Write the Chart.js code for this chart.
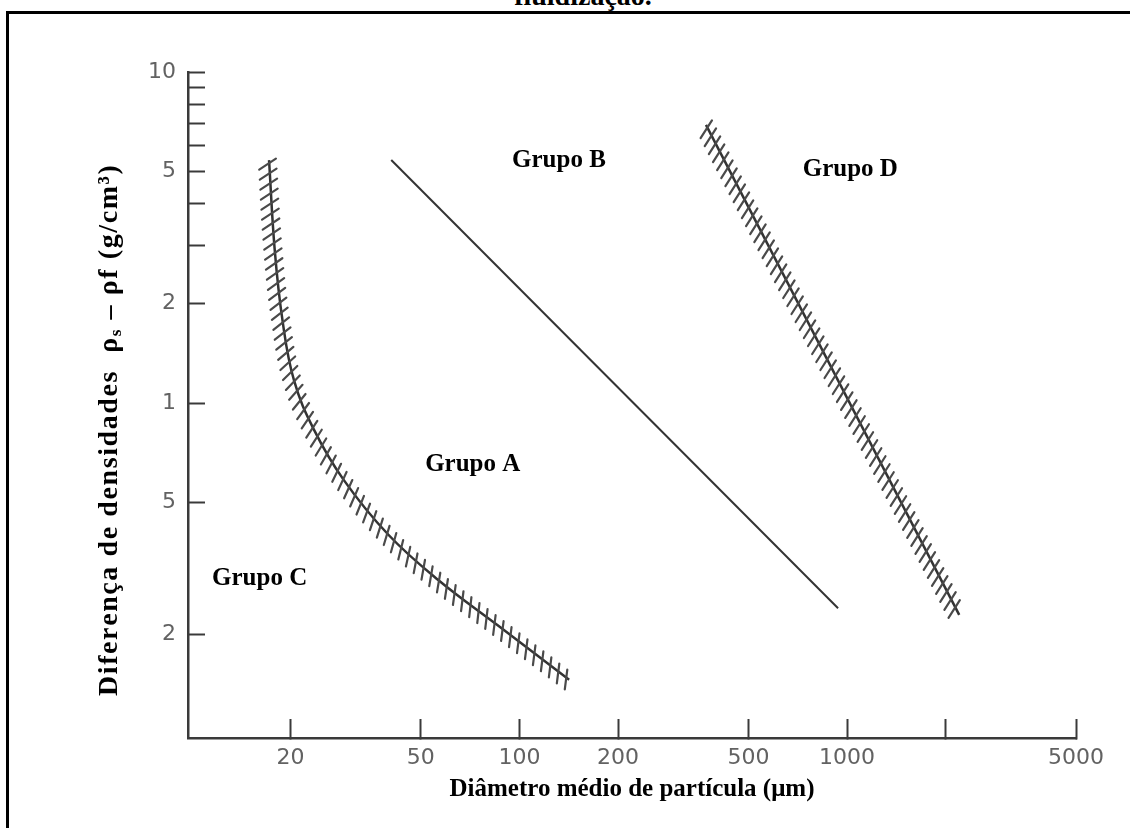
<!DOCTYPE html>
<html>
<head>
<meta charset="utf-8">
<title>Diagrama de Geldart</title>
<script src="https://cdn.jsdelivr.net/npm/chart.js@4.4.1/dist/chart.umd.min.js"></script>
<style>
  html, body { margin: 0; padding: 0; background: #fff; }
  body { width: 1130px; height: 828px; position: relative; overflow: hidden; }
  .frame {
    position: absolute; left: 6px; top: 11px; width: 1140px; height: 840px;
    border-left: 3px solid #000; border-top: 3px solid #000;
  }
  .caption {
    position: absolute; left: 18px; width: 1130px; top: -18px; text-align: center;
    font: bold 28px 'Liberation Serif', serif; line-height: 28px; color: #000;
  }
  canvas { position: absolute; left: 0; top: 0; }
</style>
</head>
<body>
<div class="caption">fluidização.</div>
<div class="frame"></div>
<canvas id="geldartChart" width="1130" height="828"></canvas>
<script>
// Ticks (log axes)
const xTickValues = [20, 50, 100, 200, 500, 1000, 2000, 5000];
const xTickLabels = ['20', '50', '100', '200', '500', '1000', '', '5000'];
const yTickValues = [10, 9, 8, 7, 6, 5, 4, 3, 2, 1, 0.5, 0.2];
const yTickLabels = ['10', '', '', '', '', '5', '', '', '2', '1', '5', '2'];

// Boundary C / A (hatched curve)
const caDiameter = [17.2, 17.9, 18.9, 20.5, 23.6, 29.1, 39.8, 56.5, 85.8, 141.8];
const caDensity = [5.42, 2.9, 1.78, 1.17, 0.83, 0.585, 0.40, 0.292, 0.213, 0.146];

// Boundary A / B (plain line)
const abDiameter = [40.6, 939];
const abDensity = [5.42, 0.240];

// Boundary B / D (hatched line)
const bdDiameter = [371, 2200];
const bdDensity = [6.92, 0.229];

// Group labels
const groupNames = ['Grupo A', 'Grupo B', 'Grupo C', 'Grupo D'];
const groupDiameter = [72, 132, 16.1, 1023];
const groupDensity = [0.65, 5.42, 0.296, 5.06];

const toPoints = (xs, ys) => xs.map((x, i) => ({ x, y: ys[i] }));

/** Hatch marks along a dataset's rendered path */
const hatchPlugin = {
  id: 'hatch',
  afterDatasetsDraw(chart) {
    const ctx = chart.ctx;
    chart.data.datasets.forEach((ds, i) => {
      if (!ds.hatch) return;
      const pts = chart.getDatasetMeta(i).data;
      // sample the (bezier) path into a polyline
      const poly = [];
      for (let k = 0; k < pts.length - 1; k++) {
        const a = pts[k], b = pts[k + 1];
        const c1x = a.cp2x ?? a.x, c1y = a.cp2y ?? a.y;
        const c2x = b.cp1x ?? b.x, c2y = b.cp1y ?? b.y;
        for (let s = 0; s < 40; s++) {
          const t = s / 40, u = 1 - t;
          poly.push({
            x: u*u*u*a.x + 3*u*u*t*c1x + 3*u*t*t*c2x + t*t*t*b.x,
            y: u*u*u*a.y + 3*u*u*t*c1y + 3*u*t*t*c2y + t*t*t*b.y
          });
        }
      }
      const last = pts[pts.length - 1];
      poly.push({ x: last.x, y: last.y });

      const h = ds.hatch;
      const rel = h.angle * Math.PI / 180;
      ctx.save();
      ctx.strokeStyle = h.color;
      ctx.lineWidth = h.width;
      ctx.lineCap = 'round';
      let dist = h.start;
      let acc = 0;
      for (let k = 0; k < poly.length - 1; k++) {
        const p = poly[k], q = poly[k + 1];
        const seg = Math.hypot(q.x - p.x, q.y - p.y);
        if (!seg) continue;
        const dir = Math.atan2(q.y - p.y, q.x - p.x);
        while (dist <= acc + seg) {
          const f = (dist - acc) / seg;
          const cx = p.x + (q.x - p.x) * f;
          const cy = p.y + (q.y - p.y) * f;
          const a = dir + rel;
          const dx = Math.cos(a), dy = Math.sin(a);
          ctx.beginPath();
          ctx.moveTo(cx + dx * (h.offset - h.length / 2), cy + dy * (h.offset - h.length / 2));
          ctx.lineTo(cx + dx * (h.offset + h.length / 2), cy + dy * (h.offset + h.length / 2));
          ctx.stroke();
          dist += h.spacing;
        }
        acc += seg;
      }
      ctx.restore();
    });
  }
};

/** Group names and the y-axis title (with subscript) */
const labelsPlugin = {
  id: 'groupLabels',
  afterDraw(chart) {
    const { ctx, scales: { x, y } } = chart;
    ctx.save();
    ctx.fillStyle = '#000';
    ctx.font = "bold 25px 'Liberation Serif', serif";
    ctx.textAlign = 'center';
    ctx.textBaseline = 'middle';
    groupNames.forEach((name, i) => {
      ctx.fillText(name, x.getPixelForValue(groupDiameter[i]), y.getPixelForValue(groupDensity[i]));
    });

    // y title, widened slightly to the reference length
    const big = "bold 28px 'Liberation Serif', serif";
    const small = "bold 17px 'Liberation Serif', serif";
    const parts = [
      { t: 'Diferença de densidades  ρ', f: big, dy: 0 },
      { t: 's', f: small, dy: 4 },
      { t: ' – ρf (g/cm³)', f: big, dy: 0 }
    ];
    const targetLen = 532;
    let total = 0, chars = 0;
    parts.forEach(p => { ctx.font = p.f; p.w = ctx.measureText(p.t).width; total += p.w; chars += p.t.length; });
    const spacing = Math.max(0, (targetLen - total) / chars);
    const len = total + spacing * chars;
    ctx.translate(108, 430);
    ctx.rotate(-Math.PI / 2);
    ctx.textAlign = 'left';
    ctx.textBaseline = 'alphabetic';
    let cx = -len / 2;
    parts.forEach(p => {
      ctx.font = p.f;
      for (const ch of p.t) {
        ctx.fillText(ch, cx, 9 + p.dy);
        cx += ctx.measureText(ch).width + spacing;
      }
    });
    ctx.restore();
  }
};

function initChart() {
  const ctx = document.getElementById('geldartChart');
  if (!ctx) return;

  const tickFont = { family: "'DejaVu Sans', sans-serif", size: 22 };
  const axisColor = '#3a3a3a';

  new Chart(ctx, {
    type: 'scatter',
    data: {
      datasets: [
        {
          label: 'C/A',
          data: toPoints(caDiameter, caDensity),
          showLine: true,
          borderColor: '#333',
          borderWidth: 2.5,
          pointRadius: 0,
          tension: 0.4,
          hatch: { spacing: 10, length: 20, angle: 60, offset: 2, start: 3, color: '#4a4a4a', width: 2.2 }
        },
        {
          label: 'A/B',
          data: toPoints(abDiameter, abDensity),
          showLine: true,
          borderColor: '#333',
          borderWidth: 2,
          pointRadius: 0
        },
        {
          label: 'B/D',
          data: toPoints(bdDiameter, bdDensity),
          showLine: true,
          borderColor: '#333',
          borderWidth: 2.5,
          pointRadius: 0,
          hatch: { spacing: 9, length: 21, angle: 60, offset: 2, start: 3, color: '#4a4a4a', width: 2.2 }
        }
      ]
    },
    options: {
      responsive: false,
      animation: false,
      devicePixelRatio: 1,
      layout: { padding: { top: 72, right: 52, left: 0, bottom: 0 } },
      plugins: {
        legend: { display: false },
        tooltip: { enabled: false }
      },
      scales: {
        x: {
          type: 'logarithmic',
          min: 9.73,
          max: 5000,
          afterFit: (scale) => { scale.height = 90; },
          afterBuildTicks: (scale) => { scale.ticks = xTickValues.map(v => ({ value: v })); },
          border: { color: axisColor, width: 2.5 },
          grid: { drawOnChartArea: false, drawTicks: true, tickLength: -19, tickColor: axisColor, tickWidth: 2 },
          ticks: {
            autoSkip: false,
            maxRotation: 0,
            padding: 26,
            color: '#626262',
            font: tickFont,
            callback: (v, i) => xTickLabels[i]
          },
          title: {
            display: true,
            text: 'Diâmetro médio de partícula (μm)',
            color: '#000',
            font: { family: "'Liberation Serif', serif", size: 25, weight: 'bold' },
            padding: { top: 0, bottom: 23 }
          }
        },
        y: {
          type: 'logarithmic',
          min: 0.0973,
          max: 10,
          afterFit: (scale) => { scale.width = 188; },
          afterBuildTicks: (scale) => { scale.ticks = yTickValues.map(v => ({ value: v })); },
          border: { color: axisColor, width: 2.5 },
          grid: { drawOnChartArea: false, drawTicks: true, tickLength: -17, tickColor: axisColor, tickWidth: 2 },
          ticks: {
            autoSkip: false,
            padding: 29,
            color: '#626262',
            font: tickFont,
            callback: (v, i) => yTickLabels[i]
          }
        }
      }
    },
    plugins: [hatchPlugin, labelsPlugin]
  });
}

document.addEventListener('DOMContentLoaded', initChart);
</script>
</body>
</html>
